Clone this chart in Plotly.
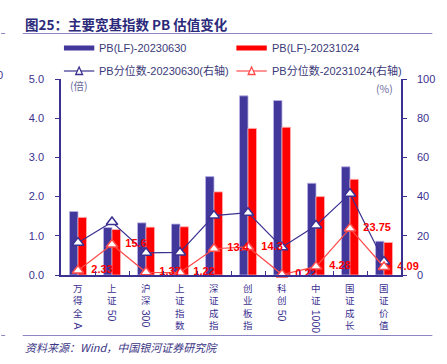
import plotly.graph_objects as go

categories = ["万得全A", "上证50", "沪深300", "上证指数", "深证成指", "创业板指", "科创50", "中证1000", "国证成长", "国证价值"]
pb_20230630 = [1.62, 1.21, 1.33, 1.30, 2.51, 4.57, 4.45, 2.34, 2.76, 0.86]
pb_20231024 = [1.47, 1.16, 1.22, 1.23, 2.12, 3.74, 3.77, 2.00, 2.44, 0.83]
pct_20230630 = [16.5, 27.0, 11.3, 11.5, 30.3, 31.8, 14.2, 25.3, 41.5, 6.9]
pct_20231024 = [2.33, 15.6, 1.37, 1.22, 13.4, 14.3, 0.22, 4.28, 23.75, 4.09]
pct_labels = ["2.33", "15.6", "1.37", "1.22", "13.4", "14.3", "0.22", "4.28", "23.75", "4.09"]
series_names = ["PB(LF)-20230630", "PB(LF)-20231024", "PB分位数-20230630(右轴)", "PB分位数-20231024(右轴)"]

W, H = 447, 364
L, R, T, B = 61, 408, 79, 275
NAVY = "#3B3190"
BLUE = "#42379A"
RED = "#FF0000"
RED_LINE = "#FF4A4A"
FONT = "Liberation Sans, Noto Sans CJK SC, sans-serif"
CJK = "Noto Sans CJK SC, Liberation Sans, sans-serif"


def px(x):
    return (x - L) / (R - L)


def py(y):
    return (B - y) / (B - T)


fig = go.Figure()
fig.add_trace(go.Bar(x=categories, y=pb_20230630, name=series_names[0], marker=dict(color=BLUE, line=dict(color="#B9B3E3", width=0.8)), showlegend=False))
fig.add_trace(go.Bar(x=categories, y=pb_20231024, name=series_names[1], marker=dict(color=RED, line=dict(color="#FFB0B0", width=0.8)), showlegend=False))
fig.add_trace(go.Scatter(x=categories, y=pct_20230630, name=series_names[2], yaxis="y2", mode="lines+markers",
                         line=dict(color=NAVY, width=1.2),
                         marker=dict(symbol="triangle-up", size=10, color="white", line=dict(color=NAVY, width=1.5)),
                         showlegend=False))
fig.add_trace(go.Scatter(x=categories, y=pct_20231024, name=series_names[3], yaxis="y2", mode="lines+markers+text",
                         text=["\u00a0\u00a0" + s for s in pct_labels], textposition="middle right", cliponaxis=False,
                         textfont=dict(color=RED, size=11, family="Liberation Sans, sans-serif", weight="bold"),
                         line=dict(color=RED_LINE, width=1.2),
                         marker=dict(symbol="triangle-up", size=10, color="white", line=dict(color=RED_LINE, width=1.5)),
                         showlegend=False))

ann = []
shapes = []

# title and rules
ann.append(dict(text="<b>图25：主要宽基指数 PB 估值变化</b>", x=px(22), y=py(24), xref="paper", yref="paper",
                xanchor="left", yanchor="middle", showarrow=False, font=dict(family=CJK, size=13.5, color="#2B2A7B")))
ann.append(dict(text="<i>资料来源：Wind，中国银河证券研究院</i>", x=px(22), y=py(347), xref="paper", yref="paper",
                xanchor="left", yanchor="middle", showarrow=False, font=dict(family=CJK, size=11, color="#3B3585")))
ann.append(dict(text="0", x=px(4), y=py(75), xref="paper", yref="paper", xanchor="right", yanchor="middle",
                showarrow=False, font=dict(family=FONT, size=11, color=NAVY)))
for yy in (33.5, 335.5):
    shapes.append(dict(type="line", xref="paper", yref="paper", x0=px(22), x1=px(440), y0=py(yy), y1=py(yy),
                       line=dict(color="#8C87C4", width=1)))
    shapes.append(dict(type="line", xref="paper", yref="paper", x0=px(0), x1=px(4), y0=py(yy), y1=py(yy),
                       line=dict(color="#8C87C4", width=1)))

# unit labels
ann.append(dict(text="(倍)", x=px(68), y=py(85), xref="paper", yref="paper", xanchor="left", yanchor="middle",
                showarrow=False, font=dict(family=CJK, size=10.5, color="#6A6A9A")))
ann.append(dict(text="(%)", x=px(402), y=py(88), xref="paper", yref="paper", xanchor="right", yanchor="middle",
                showarrow=False, font=dict(family=CJK, size=10.5, color="#6A6A9A")))

# manual legend
leg = [(64, 48, 0), (240, 48, 1), (64, 71, 2), (240, 71, 3)]
for x0, yy, i in leg:
    if i < 2:
        col = BLUE if i == 0 else RED
        shapes.append(dict(type="rect", xref="paper", yref="paper", x0=px(x0), x1=px(x0 + 31), y0=py(yy + 2.5), y1=py(yy - 2.5),
                           fillcolor=col, line=dict(width=0)))
    else:
        col = NAVY if i == 2 else RED_LINE
        shapes.append(dict(type="line", xref="paper", yref="paper", x0=px(x0), x1=px(x0 + 31), y0=py(yy), y1=py(yy),
                           line=dict(color=col, width=1.2)))
        shapes.append(dict(type="path", xref="paper", yref="paper",
                           path=f"M {px(x0+12)} {py(yy+3.5)} L {px(x0+19)} {py(yy+3.5)} L {px(x0+15.5)} {py(yy-4)} Z",
                           fillcolor="white", line=dict(color=col, width=1.3)))
    ann.append(dict(text=series_names[i], x=px(x0 + 34), y=py(yy), xref="paper", yref="paper", xanchor="left",
                    yanchor="middle", showarrow=False, font=dict(family=FONT, size=11, color="#3A3A78")))

# vertical category labels: CJK characters stacked upright, latin/digit runs rotated 90 degrees
def is_ascii(ch):
    return ord(ch) < 128

CAT_FS = 9.5
pitch = CAT_FS * 1.3
for cat in categories:
    tokens = []
    for ch in cat:
        kind = "a" if is_ascii(ch) else "c"
        if tokens and tokens[-1][0] == kind:
            tokens[-1][1] += ch
        else:
            tokens.append([kind, ch])
    top = 7.0
    for kind, s in tokens:
        if kind == "c":
            ann.append(dict(text="<br>".join(s), x=cat, xref="x", y=0, yref="paper", yshift=-top, xanchor="center",
                            yanchor="top", showarrow=False, borderpad=0,
                            font=dict(family=FONT, size=CAT_FS, color=NAVY)))
            top += pitch * len(s) + 1
        else:
            ln = len(s) * 5.8
            ann.append(dict(text=s, x=cat, xref="x", y=0, yref="paper", yshift=-(top + 1), xanchor="center",
                            yanchor="top", textangle=90, showarrow=False, borderpad=0,
                            font=dict(family=FONT, size=10.5, color=NAVY)))
            top += ln + 3

fig.update_layout(
    width=W, height=H,
    margin=dict(l=L, r=W - R, t=T, b=H - B, pad=0),
    paper_bgcolor="white", plot_bgcolor="white",
    barmode="group", bargap=0.5, bargroupgap=0,
    showlegend=False,
    font=dict(family=FONT, size=11, color=NAVY),
    xaxis=dict(type="category", range=[-0.5, 9.5], showticklabels=False, showline=True, linecolor=NAVY, linewidth=1.5,
               ticks="inside", tickson="boundaries", ticklen=4, tickcolor=NAVY, showgrid=False, zeroline=False),
    yaxis=dict(range=[0, 5], dtick=1, tickformat=".1f", showline=True, linecolor=NAVY, linewidth=1.5, ticks="outside",
               ticklen=4, tickcolor=NAVY, showgrid=False, zeroline=False, tickfont=dict(size=11, color=NAVY), ticklabelstandoff=9),
    yaxis2=dict(range=[0, 100], dtick=20, overlaying="y", side="right", showline=True, linecolor=NAVY, linewidth=1.5,
                ticks="outside", ticklen=4, tickcolor=NAVY, showgrid=False, zeroline=False, tickfont=dict(size=11, color=NAVY), ticklabelstandoff=8),
    annotations=ann, shapes=shapes,
)

fig.write_html("out.html", config={"displayModeBar": False},
               post_script="document.body.style.margin='0';document.body.style.overflow='hidden';")
